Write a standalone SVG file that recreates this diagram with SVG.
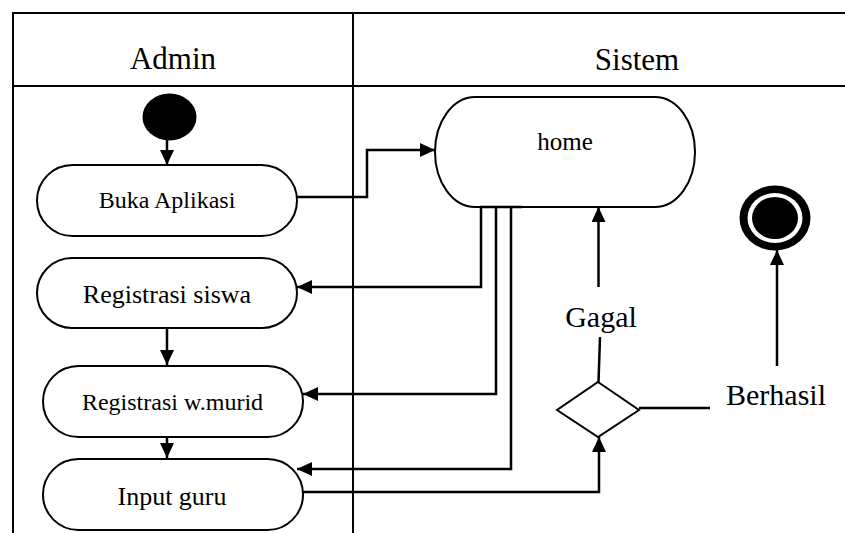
<svg xmlns="http://www.w3.org/2000/svg" width="845" height="533" viewBox="0 0 845 533">
  <defs>
    <marker id="arrow" viewBox="0 0 15 14" refX="15" refY="7" markerWidth="15" markerHeight="14" markerUnits="userSpaceOnUse" orient="auto">
      <path d="M0,0 L15,7 L0,14 z" fill="#000"/>
    </marker>
  </defs>
  <style>
    .lane { stroke: #000; stroke-width: 2; fill: none; }
    .node { fill: #fff; stroke: #000; stroke-width: 2; }
    .edge { fill: none; stroke: #000; stroke-width: 2.5; }
    .arrow { marker-end: url(#arrow); }
    .t { font-family: "Times New Roman", "Liberation Serif", Times, serif; fill: #000; text-anchor: middle; }
    .head { font-size: 31px; }
    .lbl { font-size: 30px; }
  </style>
  <rect width="845" height="533" fill="#fff"/>

  <!-- swimlanes -->
  <g id="swimlanes">
    <path class="lane" d="M13,533 V13 H845"/>
    <path class="lane" d="M13,86 H845"/>
    <path class="lane" d="M353,13 V533"/>
    <text class="t head" x="173" y="69">Admin</text>
    <text class="t head" x="637" y="70">Sistem</text>
  </g>

  <!-- initial node -->
  <g id="start">
    <ellipse cx="169.5" cy="117" rx="27" ry="23.5" fill="#000"/>
  </g>

  <g id="buka-aplikasi">
    <rect class="node" x="37" y="165" width="260" height="71" rx="35.5" ry="35.5"/>
    <text class="t" x="167" y="208" font-size="24">Buka Aplikasi</text>
  </g>

  <g id="registrasi-siswa">
    <rect class="node" x="37" y="258" width="260" height="70" rx="35" ry="35"/>
    <text class="t" x="167" y="303" font-size="26">Registrasi siswa</text>
  </g>

  <g id="registrasi-wmurid">
    <rect class="node" x="43" y="366" width="260" height="71" rx="35.5" ry="35.5"/>
    <text class="t" x="172.5" y="410" font-size="24">Registrasi w.murid</text>
  </g>

  <g id="input-guru">
    <rect class="node" x="43" y="459" width="260" height="71" rx="35.5" ry="35.5"/>
    <text class="t" x="172" y="505" font-size="26">Input guru</text>
  </g>

  <g id="home">
    <rect class="node" x="435" y="97" width="260" height="110" rx="40" ry="55"/>
    <text class="t" x="565" y="150" font-size="25">home</text>
  </g>

  <g id="decision">
    <polygon class="node" points="598,382 639,410 598,437 557,410"/>
  </g>

  <!-- final node -->
  <g id="end">
    <ellipse cx="775" cy="218" rx="35.5" ry="32.5" fill="#000"/>
    <ellipse cx="775" cy="218" rx="27.5" ry="25" fill="#fff"/>
    <ellipse cx="775" cy="218" rx="23" ry="21" fill="#000"/>
  </g>

  <g id="connectors">
    <path class="edge arrow" d="M167,140 V165"/>
    <path class="edge arrow" d="M297,197 H367 V150 H435"/>
    <line class="edge" x1="480" y1="207" x2="522" y2="207"/>
    <path class="edge arrow" d="M481,207 V287 H297"/>
    <path class="edge arrow" d="M496,207 V394 H303"/>
    <path class="edge arrow" d="M511,207 V469 H297"/>
    <path class="edge arrow" d="M167,328 V365"/>
    <path class="edge arrow" d="M167,437 V458"/>
    <path class="edge arrow" d="M303,492 H599 V437"/>
    <!-- Gagal branch -->
    <path class="edge" d="M598.5,382 L600,337"/>
    <text class="t lbl" x="601" y="327">Gagal</text>
    <path class="edge arrow" d="M598.5,287 V207"/>
    <!-- Berhasil branch -->
    <path class="edge" d="M639,408 H710"/>
    <text class="t lbl" x="776" y="405">Berhasil</text>
    <path class="edge arrow" d="M777,366 V250"/>
  </g>
</svg>
